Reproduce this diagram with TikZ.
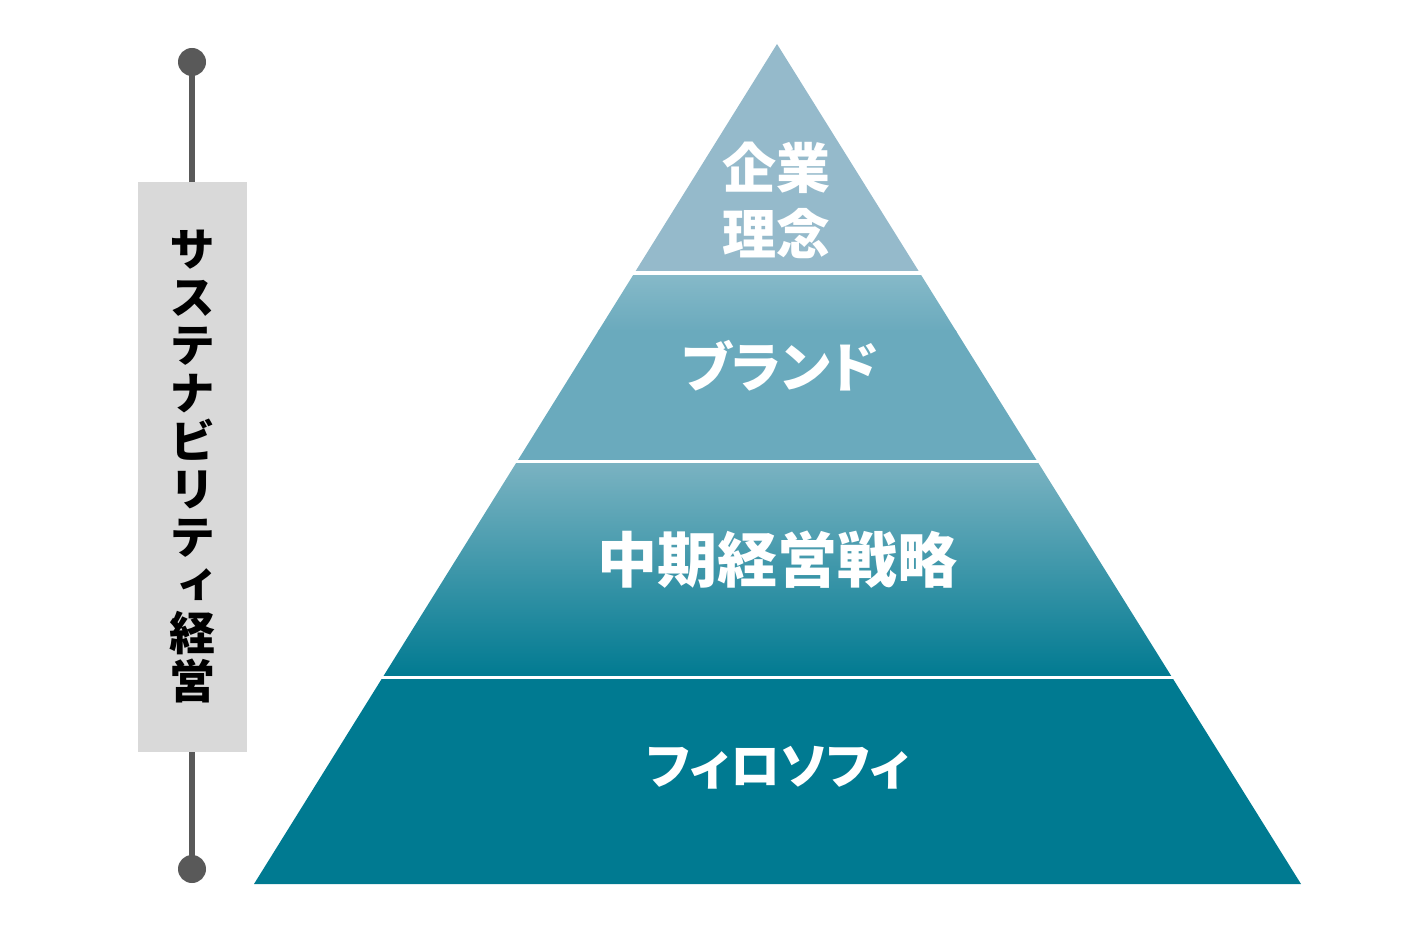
\documentclass[tikz,border=0pt]{standalone}
\usepackage{fontspec}
\newfontfamily\jp{Noto Sans CJK JP}
\newfontfamily\jpp{Noto Sans CJK JP}[RawFeature=+palt]
\newfontfamily\jpv{Noto Sans CJK JP}[RawFeature=+vert]
\usetikzlibrary{calc}
\definecolor{lvA}{HTML}{95BACB}
\definecolor{lvBtop}{HTML}{88BAC9}
\definecolor{lvB}{HTML}{6AAABD}
\definecolor{lvCtop}{HTML}{7BB3C2}
\definecolor{lvD}{HTML}{007A91}
\definecolor{barline}{HTML}{595959}
\definecolor{barbox}{HTML}{D9D9D9}
\tikzset{
  sep/.style={draw=white,line width=3.5pt},
  dotnode/.style={circle,fill=barline,inner sep=0pt,minimum size=28pt},
  barrect/.style={fill=barbox,inner sep=0pt,minimum width=109pt,minimum height=570pt,align=center,
    font=\jpv\bfseries\fontsize{46}{48}\selectfont,text=black},
  conn/.style={draw=barline,line width=6pt},
  lvtext/.style={text=white,align=center,inner sep=0pt},
}
\begin{document}
\begin{tikzpicture}[x=1pt,y=1pt]
\useasboundingbox (0,0) rectangle (1408,-925);
% pyramid frame
\coordinate (A) at (777,-44);
\coordinate (L) at (254,-884);
\coordinate (R) at (1301,-884);
\coordinate (S1L) at ($(A)!0.2726!(L)$);
\coordinate (S1R) at ($(A)!0.2726!(R)$);
\coordinate (S2L) at ($(A)!0.4970!(L)$);
\coordinate (S2R) at ($(A)!0.4970!(R)$);
\coordinate (S3L) at ($(A)!0.7542!(L)$);
\coordinate (S3R) at ($(A)!0.7542!(R)$);
% layers
\fill[lvA] (A) -- (S1R) -- (S1L) -- cycle;
\begin{scope}
  \clip (S1L) -- (S1R) -- (S2R) -- (S2L) -- cycle;
  \shade[top color=lvBtop,bottom color=lvB] (500,-271) rectangle (1100,-331);
  \fill[lvB] (500,-330) rectangle (1100,-465);
\end{scope}
\shade[top color=lvCtop,bottom color=lvD] (S2L) -- (S2R) -- (S3R) -- (S3L) -- cycle;
\fill[lvD] (S3L) -- (S3R) -- (R) -- (L) -- cycle;
% separators
\draw[sep] ($(S1L)+(-4,0)$) -- ($(S1R)+(4,0)$);
\draw[sep] ($(S2L)+(-4,0)$) -- ($(S2R)+(4,0)$);
\draw[sep] ($(S3L)+(-4,0)$) -- ($(S3R)+(4,0)$);
% labels
\node[lvtext,font=\jp\bfseries\fontsize{54}{66}\selectfont] (t1) at (776,-200) {企業\\理念};
\node[lvtext,font=\jpp\bfseries\fontsize{54}{66}\selectfont] (t2) at (780,-366) {ブランド};
\node[lvtext,font=\jp\bfseries\fontsize{60}{66}\selectfont] (t3) at (777,-560) {中期経営戦略};
\node[lvtext,font=\jpp\bfseries\fontsize{50}{60}\selectfont] (t4) at (778,-768) {フィロソフィ};
% left bar
\node[dotnode] (dt) at (192,-62) {};
\node[dotnode] (db) at (192,-869) {};
\node[barrect] (box) at (192.5,-467) {サ\\ス\\テ\\ナ\\ビ\\リ\\テ\\ィ\\経\\営};
\draw[conn] (dt.center) -- (dt.center |- box.north);
\draw[conn] (dt.center |- box.south) -- (db.center);
\end{tikzpicture}
\end{document}
